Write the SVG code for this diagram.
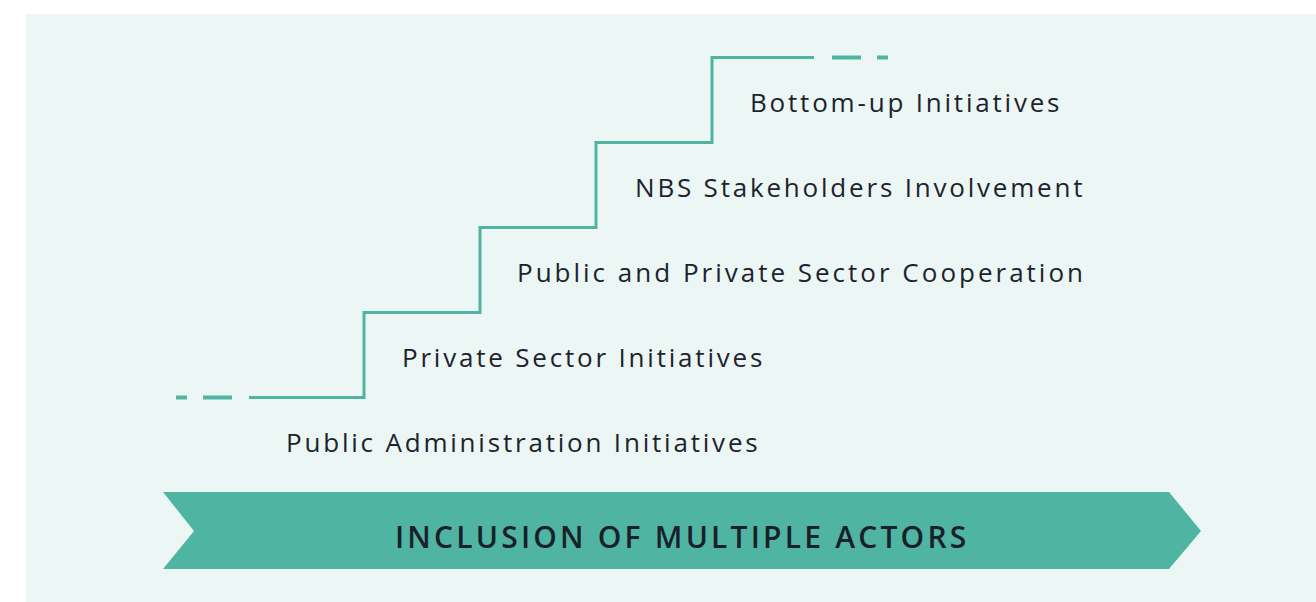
<svg xmlns="http://www.w3.org/2000/svg" width="1316" height="602" viewBox="0 0 1316 602">
  <style>
    .lbl { font-family: "Open Sans", "Liberation Sans", sans-serif; font-size: 26px; fill: #1d232d; letter-spacing: 2.8px; }
    .ban { font-family: "Open Sans", "Liberation Sans", sans-serif; font-size: 30px; font-weight: 600; fill: #1a1f2a; letter-spacing: 3.2px; }
    .stair { fill: none; stroke: #4fb5a2; stroke-width: 3; }
    .dash { fill: none; stroke: #4fb5a2; stroke-width: 4; }
  </style>
  <rect x="26" y="14" width="1290" height="588" fill="#ecf6f4"/>
  <g id="connectors">
    <path class="dash" d="M176,397.5 H187 M203,397.5 H232"/>
    <path class="stair" d="M249,397.5 H364 V312.5 H480 V227.5 H596 V142.5 H712 V57.5 H814"/>
    <path class="dash" d="M832,57.5 H861 M877,57.5 H888"/>
  </g>
  <g id="node-public-admin"><text class="lbl" x="286" y="452">Public Administration Initiatives</text></g>
  <g id="node-private"><text class="lbl" x="402" y="367">Private Sector Initiatives</text></g>
  <g id="node-public-private"><text class="lbl" x="517" y="282" style="letter-spacing:3px">Public and Private Sector Cooperation</text></g>
  <g id="node-nbs"><text class="lbl" x="635" y="197">NBS Stakeholders Involvement</text></g>
  <g id="node-bottom-up"><text class="lbl" x="750" y="112">Bottom-up Initiatives</text></g>
  <g id="node-banner">
    <polygon points="163,492 1169,492 1201,531 1169,569 163,569 194,531" fill="#4fb5a2"/>
    <text class="ban" x="395" y="548">INCLUSION OF MULTIPLE ACTORS</text>
  </g>
</svg>
